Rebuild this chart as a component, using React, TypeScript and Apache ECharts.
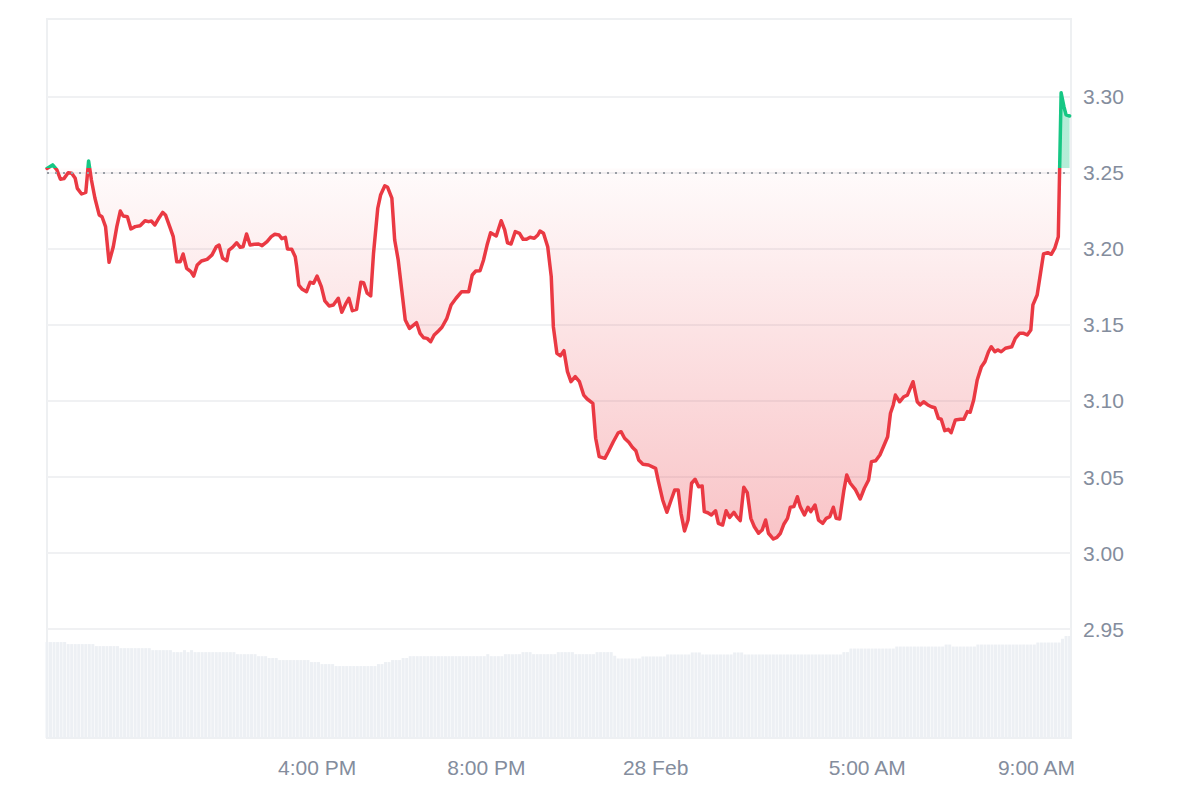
import React, { useEffect, useRef } from "react";
import * as echarts from "echarts";

// 27 Feb 09:37 AM is the first sample; times below are minutes after it
const START_MINUTE_OF_DAY = 9 * 60 + 37;

const minutes = [
  0, 8, 14, 19, 24, 30, 35, 40, 43, 49,
  55, 59, 63, 68, 74, 78, 83, 88, 94, 99,
  104, 108, 114, 119, 125, 132, 139, 144, 148, 153,
  159, 164, 168, 174, 179, 184, 189, 193, 198, 204,
  208, 213, 219, 227, 234, 240, 244, 249, 255, 258,
  263, 269, 274, 278, 283, 288, 294, 300, 305, 312,
  318, 323, 329, 333, 338, 341, 347, 352, 354, 357,
  362, 368, 373, 378, 383, 389, 394, 400, 406, 413,
  418, 424, 428, 433, 439, 445, 449, 454, 459, 463,
  469, 473, 479, 483, 489, 493, 498, 503, 508, 514,
  518, 524, 529, 534, 539, 544, 549, 555, 560, 567,
  573, 580, 588, 598, 603, 608, 614, 619, 624, 629,
  637, 644, 649, 653, 658, 664, 670, 675, 680, 685,
  691, 696, 699, 704, 710, 715, 718, 723, 728, 733,
  738, 743, 749, 755, 761, 766, 774, 778, 783, 791,
  796, 803, 810, 814, 819, 825, 830, 835, 839, 845,
  853, 863, 867, 873, 879, 885, 890, 895, 899, 904,
  909, 914, 919, 924, 929, 932, 937, 942, 948, 952,
  958, 963, 968, 974, 978, 983, 988, 993, 998, 1003,
  1009, 1014, 1019, 1023, 1030, 1035, 1040, 1045, 1050, 1054,
  1059, 1064, 1068, 1074, 1079, 1083, 1089, 1094, 1100, 1105,
  1110, 1115, 1119, 1124, 1130, 1134, 1139, 1146, 1153, 1159,
  1165, 1169, 1175, 1181, 1186, 1192, 1196, 1200, 1203, 1209,
  1215, 1220, 1228, 1234, 1238, 1243, 1249, 1254, 1259, 1264,
  1268, 1273, 1278, 1282, 1288, 1295, 1300, 1305, 1309, 1314,
  1319, 1325, 1330, 1335, 1339, 1344, 1348, 1353, 1359, 1368,
  1373, 1379, 1385, 1390, 1395, 1398, 1404, 1408, 1413, 1419,
  1424, 1429, 1434, 1438, 1442, 1445, 1450,
];

const prices = [
  3.2530, 3.2553, 3.2520, 3.2459, 3.2463, 3.2502, 3.2498, 3.2465, 3.2399, 3.2362,
  3.2373, 3.2579, 3.2454, 3.2334, 3.2224, 3.2212, 3.2147, 3.1912, 3.2015, 3.2147,
  3.2250, 3.2217, 3.2212, 3.2132, 3.2147, 3.2153, 3.2186, 3.2180, 3.2184, 3.2158,
  3.2206, 3.2241, 3.2224, 3.2147, 3.2081, 3.1916, 3.1916, 3.1967, 3.1873, 3.1851,
  3.1822, 3.1895, 3.1921, 3.1932, 3.1961, 3.2015, 3.2026, 3.1939, 3.1923, 3.1993,
  3.2011, 3.2041, 3.2011, 3.2015, 3.2099, 3.2026, 3.2031, 3.2033, 3.2022, 3.2048,
  3.2081, 3.2097, 3.2092, 3.2068, 3.2077, 3.2000, 3.1998, 3.1949, 3.1884, 3.1763,
  3.1735, 3.1719, 3.1781, 3.1774, 3.1822, 3.1752, 3.1658, 3.1625, 3.1632, 3.1676,
  3.1584, 3.1643, 3.1676, 3.1594, 3.1603, 3.1781, 3.1778, 3.1709, 3.1691, 3.1972,
  3.2268, 3.2355, 3.2416, 3.2406, 3.2334, 3.2059, 3.1928, 3.1730, 3.1533, 3.1478,
  3.1493, 3.1515, 3.1445, 3.1416, 3.1412, 3.1390, 3.1434, 3.1461, 3.1485, 3.1544,
  3.1632, 3.1676, 3.1719, 3.1719, 3.1829, 3.1855, 3.1857, 3.1928, 3.2026, 3.2107,
  3.2086, 3.2186, 3.2125, 3.2041, 3.2033, 3.2114, 3.2103, 3.2064, 3.2064, 3.2077,
  3.2070, 3.2092, 3.2118, 3.2103, 3.2015, 3.1818, 3.1489, 3.1314, 3.1298, 3.1331,
  3.1193, 3.1127, 3.1160, 3.1127, 3.1039, 3.1013, 3.0985, 3.0755, 3.0634, 3.0623,
  3.0666, 3.0732, 3.0791, 3.0798, 3.0755, 3.0728, 3.0696, 3.0673, 3.0612, 3.0584,
  3.0579, 3.0557, 3.0469, 3.0349, 3.0268, 3.0349, 3.0414, 3.0414, 3.0261, 3.0145,
  3.0217, 3.0459, 3.0485, 3.0436, 3.0441, 3.0272, 3.0265, 3.0250, 3.0278, 3.0195,
  3.0184, 3.0278, 3.0234, 3.0268, 3.0239, 3.0213, 3.0432, 3.0397, 3.0228, 3.0173,
  3.0130, 3.0151, 3.0217, 3.0130, 3.0092, 3.0103, 3.0130, 3.0191, 3.0228, 3.0301,
  3.0305, 3.0370, 3.0305, 3.0250, 3.0301, 3.0272, 3.0316, 3.0217, 3.0195, 3.0228,
  3.0239, 3.0301, 3.0228, 3.0224, 3.0414, 3.0513, 3.0459, 3.0419, 3.0355, 3.0426,
  3.0480, 3.0601, 3.0607, 3.0645, 3.0699, 3.0765, 3.0919, 3.0974, 3.1039, 3.0995,
  3.1028, 3.1039, 3.1127, 3.0995, 3.0974, 3.0995, 3.0974, 3.0962, 3.0956, 3.0886,
  3.0880, 3.0805, 3.0814, 3.0791, 3.0875, 3.0880, 3.0880, 3.0930, 3.0926, 3.1007,
  3.1138, 3.1226, 3.1259, 3.1324, 3.1357, 3.1324, 3.1336, 3.1324, 3.1347, 3.1357,
  3.1412, 3.1445, 3.1445, 3.1434, 3.1467, 3.1632, 3.1697, 3.1818, 3.1967, 3.1976,
  3.1965, 3.2005, 3.2081, 3.3028, 3.2936, 3.2882, 3.2875,
];

// Volume bars, one per 5 minutes: [volume, number of consecutive bars at that level]
const volumeRuns: [number, number][] = [
  [667, 6], [653, 8], [639, 7], [625, 9], [611, 6], [597, 3], [611, 1], [597, 1],
  [611, 1], [597, 12], [583, 6], [569, 3], [556, 3], [542, 9], [528, 3], [514, 4],
  [500, 12], [514, 2], [528, 2], [542, 3], [556, 2], [569, 22], [583, 1], [569, 4],
  [583, 5], [597, 3], [583, 7], [597, 5], [583, 6], [597, 5], [572, 1], [553, 7],
  [567, 7], [581, 7], [595, 3], [581, 9], [595, 3], [581, 28], [597, 2], [622, 13],
  [636, 14], [650, 2], [636, 7], [650, 17], [664, 7], [690, 1], [709, 2],
];
const VOLUME_STEP_MIN = 5;

const xTickHours = [16, 20, 24, 29, 33];
const xTickLabels = ["4:00 PM", "8:00 PM", "28 Feb", "5:00 AM", "9:00 AM"];
const yTickLabels = ["2.95", "3.00", "3.05", "3.10", "3.15", "3.20", "3.25", "3.30"];

const GREEN = "#16c784";
const RED = "#ea3943";
const LABEL_COLOR = "#848d9d";
const FONT = "'Liberation Sans', Arial, Helvetica, sans-serif";

export default function App() {
  const ref = useRef<HTMLDivElement>(null);

  useEffect(() => {
    if (!ref.current) return;
    const chart = echarts.init(ref.current, undefined, { renderer: "svg" });

    const n = Math.min(minutes.length, prices.length);
    const priceData: number[][] = [];
    for (let i = 0; i < n; i++) priceData.push([minutes[i], prices[i]]);

    const volumeData: number[][] = [];
    let k = 0;
    volumeRuns.forEach(([v, c]) => {
      for (let j = 0; j < c; j++) {
        volumeData.push([k * VOLUME_STEP_MIN, v]);
        k++;
      }
    });

    const base = prices[0];
    const maxP = Math.max(...prices);
    const minP = Math.min(...prices);
    // fraction of the line's vertical extent that lies above the opening price
    const ob = (maxP - base) / (maxP - minP);

    const tickMinutes = xTickHours.map((h) => h * 60 - START_MINUTE_OF_DAY);
    const yTickNums = yTickLabels.map(Number);

    const option: any = {
      animation: false,
      backgroundColor: "#ffffff",
      grid: {
        left: 47,
        right: 129,
        top: 19,
        bottom: 62,
        show: true,
        borderColor: "#eef0f2",
        borderWidth: 2,
        outerBoundsMode: "none",
      },
      xAxis: {
        type: "value",
        min: 0,
        max: 1452,
        axisLine: { show: false },
        axisTick: { show: false },
        splitLine: { show: false },
        axisLabel: {
          customValues: tickMinutes,
          formatter: (v: number) => {
            const idx = tickMinutes.findIndex((t) => Math.abs(t - v) < 0.5);
            return idx >= 0 ? xTickLabels[idx] : "";
          },
          color: LABEL_COLOR,
          fontSize: 21,
          fontFamily: FONT,
          margin: 19,
        },
      },
      yAxis: [
        {
          type: "value",
          position: "right",
          min: 2.8783,
          max: 3.3513,
          axisLine: { show: false },
          axisTick: { show: false, customValues: yTickNums },
          splitLine: { show: true, lineStyle: { color: "#f0f1f3", width: 2 } },
          axisLabel: {
            customValues: yTickNums,
            formatter: (v: number) => {
              const idx = yTickNums.findIndex((t) => Math.abs(t - v) < 1e-6);
              return idx >= 0 ? yTickLabels[idx] : "";
            },
            color: LABEL_COLOR,
            fontSize: 21,
            fontFamily: FONT,
            margin: 12,
          },
        },
        { type: "value", min: 0, max: 5000, show: false, splitLine: { show: false } },
      ],
      series: [
        {
          type: "bar",
          xAxisIndex: 0,
          yAxisIndex: 1,
          data: volumeData,
          barWidth: 3,
          itemStyle: { color: "#edf0f4" },
          silent: true,
          z: 1,
        },
        {
          type: "line",
          xAxisIndex: 0,
          yAxisIndex: 0,
          data: priceData,
          showSymbol: false,
          symbol: "none",
          silent: true,
          z: 3,
          lineStyle: {
            width: 3.5,
            join: "round",
            cap: "round",
            color: new echarts.graphic.LinearGradient(0, 0, 0, 1, [
              { offset: 0, color: GREEN },
              { offset: ob, color: GREEN },
              { offset: ob, color: RED },
              { offset: 1, color: RED },
            ]),
          },
          areaStyle: {
            origin: base,
            opacity: 1,
            color: new echarts.graphic.LinearGradient(0, 0, 0, 1, [
              { offset: 0, color: "rgba(22,199,132,0.32)" },
              { offset: ob, color: "rgba(22,199,132,0.32)" },
              { offset: ob, color: "rgba(234,57,67,0.02)" },
              { offset: 1, color: "rgba(234,57,67,0.30)" },
            ]),
          },
          markLine: {
            silent: true,
            symbol: ["none", "none"],
            label: { show: false },
            emphasis: { disabled: true },
            lineStyle: { color: "#9a9ea5", type: [2, 6], width: 2, cap: "butt" },
            data: [{ yAxis: base }],
          },
        },
      ],
    };

    chart.setOption(option);
    return () => chart.dispose();
  }, []);

  return (
    <div
      ref={ref}
      style={{ position: "fixed", left: 0, top: 0, width: "1200px", height: "800px" }}
    />
  );
}
